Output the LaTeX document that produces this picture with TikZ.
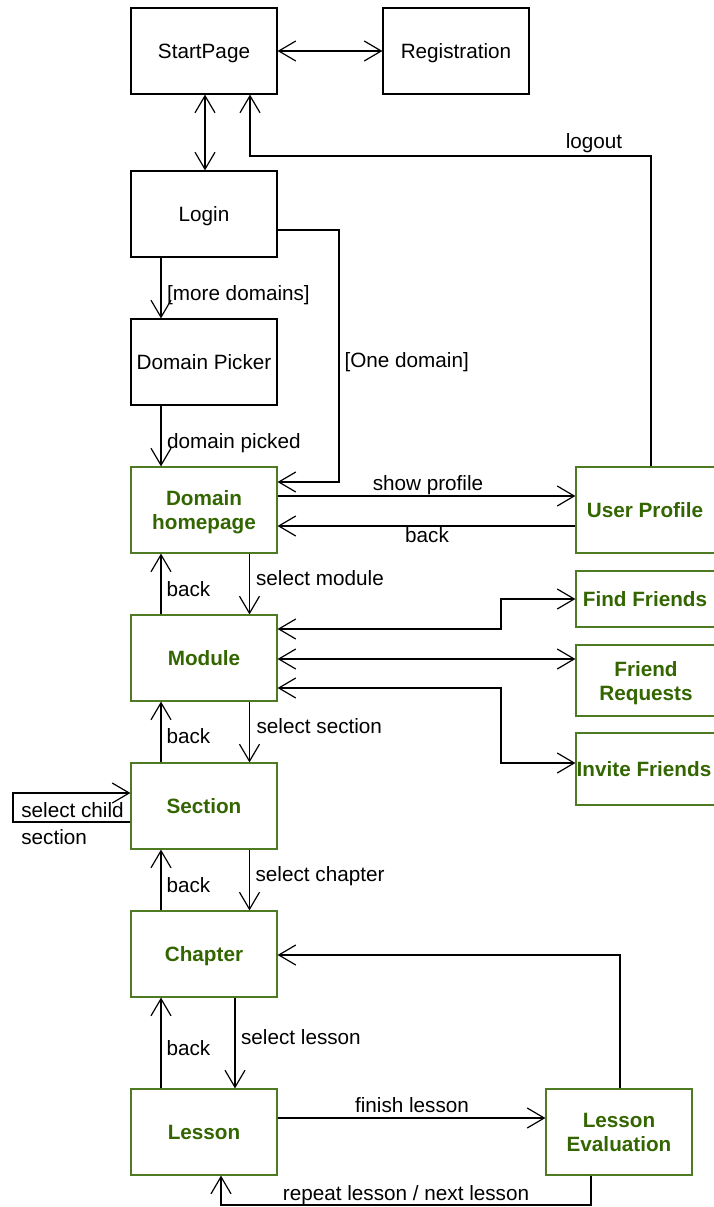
\documentclass[tikz,border=0pt]{standalone}
\usepackage{fontspec}
\setmainfont{Liberation Sans}
\usetikzlibrary{arrows.meta}
\definecolor{leaf}{RGB}{51,102,0}
\definecolor{leafline}{RGB}{77,122,35}
\begin{document}
\begin{tikzpicture}[x=1pt,y=-1pt,
  line width=1.2pt, line join=miter,
  >={Straight Barb[length=17pt,width=20pt]},
  txt/.style={font=\fontsize{20.7}{24}\selectfont},
  page/.style={txt, draw=black, line width=1.2pt, minimum width=146pt,
    minimum height=86pt, inner sep=0pt, align=center, text depth=0pt},
  gpage/.style={page, draw=leafline, text=leaf,
    font=\fontsize{20.7}{24}\selectfont\bfseries},
  side/.style={gpage, minimum width=140pt},
  lbl/.style={txt, inner sep=0pt},
  arr/.style={->},
  darr/.style={<->}]
\useasboundingbox (0,0) rectangle (713,1207);

% pages
\node[page] (start) at (204,51) {StartPage};
\node[page] (reg) at (456,51) {Registration};
\node[page] (login) at (204,214) {Login};
\node[page] (picker) at (204,362) {Domain Picker};
\node[gpage] (home) at (204,510) {Domain\\homepage};
\node[side] (profile) at (646,510) {User Profile\kern2pt};
\node[side, minimum height=56pt] (find) at (646,599) {Find Friends\kern2pt};
\node[side, minimum height=71pt] (requests) at (646,680.5) {Friend\\Requests};
\node[side, minimum height=72pt] (invite) at (646,769) {Invite Friends\kern4pt};
\node[gpage] (module) at (204,658) {Module};
\node[gpage] (section) at (204,806) {Section};
\node[gpage] (chapter) at (204,954) {Chapter};
\node[gpage] (lesson) at (204,1132) {Lesson};
\node[gpage] (eval) at (619,1132) {Lesson\\Evaluation};

% start / registration / login
\draw[darr] (start.east) -- (reg.west);
\draw[darr] (start.south -| 205,0) -- (login.north -| 205,0);
\draw[arr] (profile.north -| 651,0) -- (651,156) -- (250,156) -- (start.south -| 250,0);
\node[lbl, anchor=base] (tlogout) at (594,148) {logout};

% login to domain homepage
\draw[arr] (login.east |- 0,230) -- (339,230) -- (339,482) -- (home.east |- 0,482);
\node[lbl, anchor=base west] (tone) at (344,367.5) {[One domain]};
\draw[arr] (login.south -| 161,0) -- (picker.north -| 161,0);
\node[lbl, anchor=base west] (tmore) at (166.5,300.5) {[more domains]};
\draw[arr] (picker.south -| 161,0) -- (home.north -| 161,0);
\node[lbl, anchor=base west] (tpicked) at (166.5,448.5) {domain picked};

% profile
\draw[arr] (home.east |- 0,496) -- (profile.west |- 0,496);
\node[lbl, anchor=base] (tshow) at (428,490) {show profile};
\draw[arr] (profile.west |- 0,526) -- (home.east |- 0,526);
\node[lbl, anchor=base] (tback0) at (427,542) {back};

% homepage / module
\draw[arr] (home.south -| 249.5,0) -- (module.north -| 249.5,0);
\node[lbl, anchor=base west] (tmod) at (255.5,585) {select module};
\draw[arr] (module.north -| 161,0) -- (home.south -| 161,0);
\node[lbl, anchor=base west] (tback1) at (166,596) {back};

% friends
\draw[darr] (module.east |- 0,629) -- (501,629) -- (501,599) -- (find.west);
\draw[darr] (module.east |- 0,659) -- (requests.west |- 0,659);
\draw[darr] (module.east |- 0,688) -- (501,688) -- (501,763) -- (invite.west |- 0,763);

% module / section
\draw[arr] (module.south -| 249.5,0) -- (section.north -| 249.5,0);
\node[lbl, anchor=base west] (tsec) at (256,733) {select section};
\draw[arr] (section.north -| 161,0) -- (module.south -| 161,0);
\node[lbl, anchor=base west] (tback2) at (166,743) {back};

% child section loop
\draw[arr] (section.west |- 0,822) -- (13,822) -- (13,793) -- (section.west |- 0,793);
\node[lbl, anchor=base west] (tchild) at (20.7,817) {select child};
\node[lbl, anchor=base west] (tchild2) at (20.7,844) {section};

% section / chapter
\draw[arr] (section.south -| 249.5,0) -- (chapter.north -| 249.5,0);
\node[lbl, anchor=base west] (tchap) at (255,881) {select chapter};
\draw[arr] (chapter.north -| 161,0) -- (section.south -| 161,0);
\node[lbl, anchor=base west] (tback3) at (166,892) {back};

% chapter / lesson
\draw[arr] (chapter.south -| 235,0) -- (lesson.north -| 235,0);
\node[lbl, anchor=base west] (tles) at (240.5,1044) {select lesson};
\draw[arr] (lesson.north -| 161,0) -- (chapter.south -| 161,0);
\node[lbl, anchor=base west] (tback4) at (166,1055) {back};

% lesson evaluation
\draw[arr] (lesson.east |- 0,1118) -- (eval.west |- 0,1118);
\node[lbl, anchor=base] (tfinish) at (412,1112) {finish lesson};
\draw[arr] (eval.north -| 620,0) -- (620,955) -- (chapter.east |- 0,955);
\draw[arr] (eval.south -| 591,0) -- (591,1205) -- (221,1205) -- (lesson.south -| 221,0);
\node[lbl, anchor=base] (trepeat) at (406,1200.5) {repeat lesson / next lesson};
\end{tikzpicture}
\end{document}
